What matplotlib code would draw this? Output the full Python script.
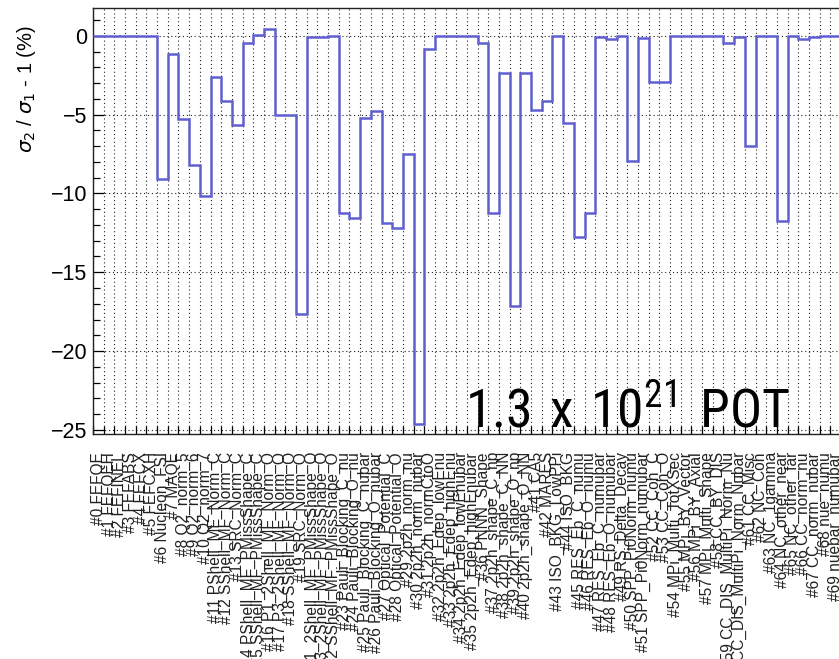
import matplotlib
matplotlib.use("Agg")
import matplotlib.pyplot as plt
import numpy as np
from matplotlib import font_manager as fm
from matplotlib.ticker import MultipleLocator, FixedLocator, NullFormatter, FixedFormatter

# parameter names, in bin order
param_names = [
    "FEFQE", "FEFQEH", "FEFINEL", "FEFABS", "FEFCX", "FEFCXH", "Nucleon_FSI", "MAQE",
    "Q2_norm_5", "Q2_norm_6", "Q2_norm_7",
    "PShell_MF_Norm_C", "SShell_MF_Norm_C", "SRC_Norm_C",
    "PShell_MF_PMissShape_C", "SShell_MF_PMissShape_C",
    "P1_2Shell_MF_Norm_O", "P3_2Shell_MF_Norm_O", "SShell_MF_Norm_O", "SRC_Norm_O",
    "P1_2Shell_MF_PMissShape_O", "P3_2Shell_MF_PMissShape_O", "SShell_MF_PMissShape_O",
    "Pauli_Blocking_C_nu", "Pauli_Blocking_O_nu", "Pauli_Blocking_C_nubar", "Pauli_Blocking_O_nubar",
    "Optical_Potential_C", "Optical_Potential_O",
    "2p2h_norm_nu", "2p2h_norm_nubar", "2p2h_normCtoO",
    "2p2h_Edep_lowEnu", "2p2h_Edep_highEnu", "2p2h_Edep_lowEnubar", "2p2h_Edep_highEnubar",
    "PNNN_Shape", "2p2h_shape_C_np", "2p2h_shape_C_NN", "2p2h_shape_O_np", "2p2h_shape_O_NN",
    "CA5", "MARES", "ISO_BKG_LowPPi", "ISO_BKG",
    "RES_Eb_C_numu", "RES_Eb_O_numu", "RES_Eb_C_numubar", "RES_Eb_O_numubar",
    "RS_Delta_Decay", "SPP_Pi0Norm_numu", "SPP_Pi0Norm_numubar", "CC_Coh_C", "CC_Coh_O",
    "MPi_Multi_TotXSec", "MPi_BY_Vector", "MPi_BY_Axial", "MPi_Multi_Shape", "CC_BY_DIS",
    "CC_DIS_MultiPi_Norm_Nu", "CC_DIS_MultiPi_Norm_Nubar", "CC_Misc", "NC_Coh", "NC_1gamma",
    "NC_other_near", "NC_other_far", "CC_norm_nu", "CC_norm_nubar", "nue_numu", "nuebar_numubar",
]

# sigma2/sigma1 - 1 in percent, one value per parameter
ratio_pct = [
    0, 0, 0, 0, 0, 0, -9.1, -1.18, -5.26, -8.2,
    -10.17, -2.6, -4.14, -5.66, -0.44, 0.04, 0.42, -5.0, -5.0, -17.67,
    -0.1, -0.1, 0.0, -11.26, -11.58, -5.24, -4.75, -11.9, -12.17, -7.48,
    -24.64, -0.84, 0, 0, 0, 0, -0.44, -11.22, -2.39, -17.14,
    -2.39, -4.71, -4.14, 0, -5.56, -12.79, -11.22, -0.06, -0.2, 0,
    -7.95, -0.15, -2.96, -2.96, 0, 0, 0, 0, 0, -0.44,
    -0.07, -7.0, 0, 0, -11.75, 0, -0.21, -0.1, 0, 0,
]

tick_labels = ["#%d %s" % (i, n) for i, n in enumerate(param_names)]
nbins = len(ratio_pct)
edges = np.arange(nbins + 1)
centers = edges[:-1] + 0.5

SANS = ["Liberation Sans", "DejaVu Sans"]


def narrow_font():
    # the POT label is in a tall narrow face; use a condensed font if there is one
    want = ["Liberation Sans Narrow", "Open Sans", "Noto Sans", "Roboto", "DejaVu Sans", "Lato"]
    found = {}
    for f in fm.fontManager.ttflist:
        narrow = ("Narrow" in f.name or "Condensed" in f.name
                  or str(f.stretch) in ("condensed", "semi-condensed", "extra-condensed"))
        if not narrow or f.style != "normal" or f.weight not in (400, "normal", "regular"):
            continue
        for w in want:
            if f.name.startswith(w):
                found.setdefault(w, f.fname)
    for w in want:
        if w in found:
            return fm.FontProperties(fname=found[w])
    return fm.FontProperties(family="Liberation Sans")


W, H = 839, 659
fig = plt.figure(figsize=(W / 100, H / 100), dpi=100)
# frame runs off the right edge of the picture, like the original
ax = fig.add_axes([93 / W, 1 - 434 / H, (841 - 93) / W, (434 - 8) / H])

ax.stairs(ratio_pct, edges, baseline=None, color="#5f5fd2", lw=1.8, zorder=3)

ax.set_xlim(0, nbins)
ax.set_ylim(-25.26, 1.76)

# grid: every bin boundary, every 5 % in y
ax.xaxis.set_major_locator(MultipleLocator(1))
ax.xaxis.set_major_formatter(NullFormatter())
ax.xaxis.set_minor_locator(FixedLocator(centers))
ax.xaxis.set_minor_formatter(FixedFormatter(tick_labels))
ax.yaxis.set_major_locator(MultipleLocator(5))
ax.yaxis.set_minor_locator(MultipleLocator(1))
ax.grid(True, which="major", color="#222222", lw=0.8, linestyle=(0, (1, 2.5)))

ax.tick_params(axis="x", which="major", direction="in", length=6, width=0.9, top=False)
ax.tick_params(axis="x", which="minor", length=0, pad=13, labelsize=11.2,
               labelrotation=90, labelcolor="#222222")
ax.tick_params(axis="y", which="major", direction="in", length=8, width=0.9,
               labelsize=15.5, pad=4, right=False)
ax.tick_params(axis="y", which="minor", direction="in", length=5, width=0.9, right=False)
for lab in ax.get_xticklabels(minor=True):
    lab.set_family(SANS)
for lab in ax.get_yticklabels():
    lab.set_family(SANS)

for s in ax.spines.values():
    s.set_linewidth(1.0)
    s.set_color("#222222")

ax.set_ylabel(r"$\sigma_{2}$ / $\sigma_{1}$ - 1 (%)", fontsize=14.5, loc="top", family=SANS)
ax.yaxis.set_label_coords(-0.074, 0.96)

fp = narrow_font()
fp.set_size(44)
pot = fig.text(465 / W, 1 - 428 / H, r"$\mathregular{1.3\ x\ 10^{21}\ POT}$",
               fontproperties=fp, ha="left", va="baseline", color="black", zorder=4)
# fit the label to its width in the original (about 325 px)
fig.canvas.draw()
wpx = pot.get_window_extent().width
fp.set_size(min(46, 44 * 325 / wpx))
pot.set_fontproperties(fp)

fig.savefig("out.png", dpi=100)
